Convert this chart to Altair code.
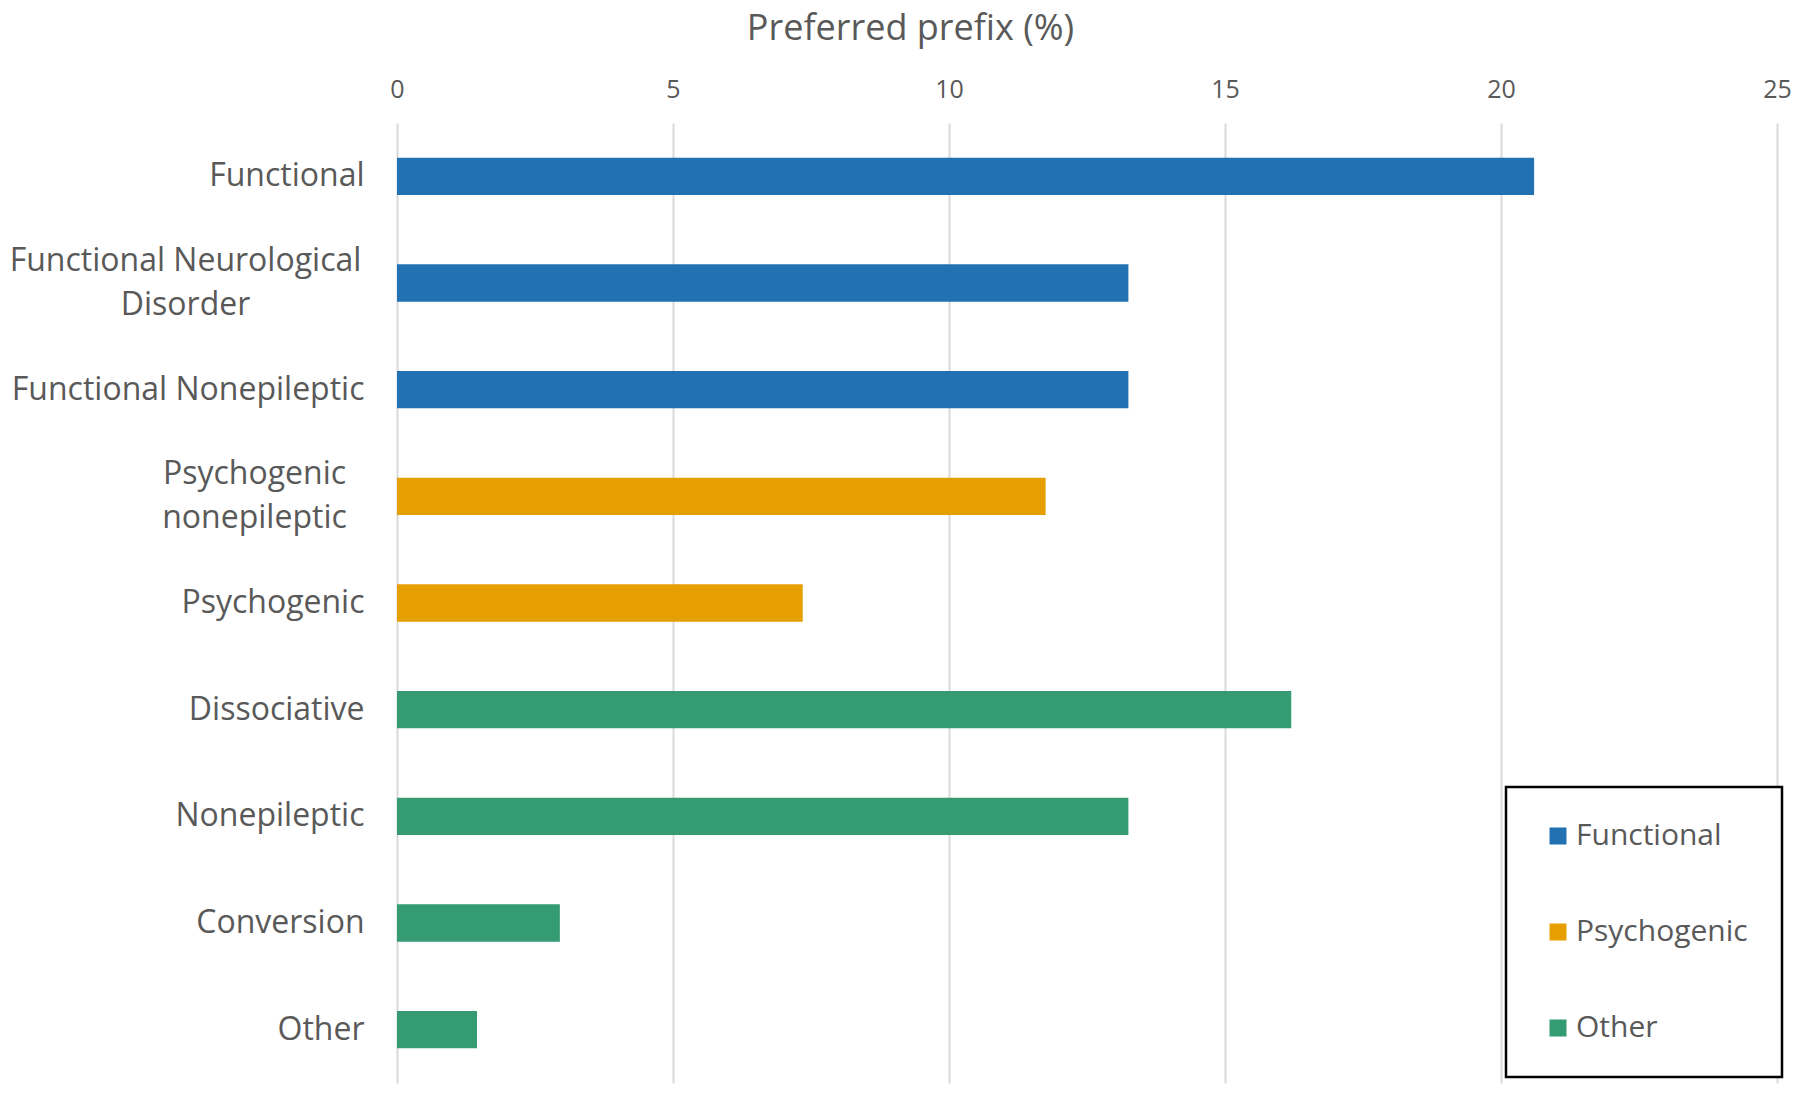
import altair as alt
import pandas as pd

categories = [
    "Functional",
    "Functional Neurological Disorder",
    "Functional Nonepileptic",
    "Psychogenic nonepileptic",
    "Psychogenic",
    "Dissociative",
    "Nonepileptic",
    "Conversion",
    "Other",
]
groups = ["Functional", "Functional", "Functional", "Psychogenic", "Psychogenic",
          "Other", "Other", "Other", "Other"]
values = [20.6, 13.25, 13.25, 11.75, 7.35, 16.2, 13.25, 2.95, 1.45]

wrapped = {
    "Functional Neurological Disorder": ["Functional Neurological", "Disorder"],
    "Psychogenic nonepileptic": ["Psychogenic", "nonepileptic"],
}
group_order = ["Functional", "Psychogenic", "Other"]
group_colors = ["#2271B2", "#E69F00", "#359B73"]
x_ticks = [0, 5, 10, 15, 20, 25]

df = pd.DataFrame({"prefix": categories, "group": groups, "value": values})

expr = "datum.value"
for k, v in wrapped.items():
    arr = "[" + ",".join("'" + s + "'" for s in v) + "]"
    expr = f"datum.value == '{k}' ? {arr} : ({expr})"

FONT = "Open Sans"
GREY = "#595959"

fnd = "datum.value == 'Functional Neurological Disorder'"
pnp = "datum.value == 'Psychogenic nonepileptic'"
any_wrapped = f"{fnd} || {pnp}"

chart = alt.Chart(df).mark_bar().encode(
    x=alt.X(
        "value:Q",
        scale=alt.Scale(domain=[0, 25], nice=False),
        axis=alt.Axis(
            orient="top",
            values=x_ticks,
            title="Preferred prefix (%)",
            titleFontSize=36,
            titleFont=FONT,
            titleColor=GREY,
            titleFontWeight="normal",
            titleX=513,
            titleY=-84,
            titleAlign="center",
            titleBaseline="alphabetic",
            labelFont=FONT,
            labelFontSize=25,
            labelColor=GREY,
            labelBaseline="alphabetic",
            labelPadding=26,
            labelFlush=False,
            ticks=False,
            domain=False,
            grid=True,
            gridColor="#D9D9D9",
            gridWidth=2,
        ),
    ),
    y=alt.Y(
        "prefix:N",
        sort=categories,
        scale=alt.Scale(paddingInner=0.65, paddingOuter=0.325),
        axis=alt.Axis(
            title=None,
            labelExpr=expr,
            labelFont=FONT,
            labelFontSize=32,
            labelColor=GREY,
            labelAlign={"condition": {"test": any_wrapped, "value": "center"}, "value": "right"},
            labelPadding={"condition": [{"test": fnd, "value": 212}, {"test": pnp, "value": 143}], "value": 33},
            labelOffset={"condition": {"test": any_wrapped, "value": -22}, "value": 0},
            labelLineHeight=44,
            labelLimit=500,
            ticks=False,
            domain=False,
            grid=False,
        ),
    ),
    color=alt.Color(
        "group:N",
        scale=alt.Scale(domain=group_order, range=group_colors),
        legend=alt.Legend(
            title=None,
            orient="none",
            legendX=1109,
            legendY=664,
            direction="vertical",
            symbolType="square",
            symbolSize=289,
            symbolStrokeWidth=0,
            symbolOffset=3,
            labelFont=FONT,
            labelFontSize=30,
            labelColor=GREY,
            labelOffset=3,
            labelLimit=400,
            fillColor="white",
        ),
    ),
).properties(
    width=1380,
    height=960,
    autosize=alt.AutoSizeParams(type="none"),
    padding={"left": 389, "top": 115, "right": 15, "bottom": 2},
).configure_view(stroke=None).configure_legend(
    rowPadding=66,
    padding=34,
    strokeColor="black",
    strokeWidth=2.5,
)

chart.save("out.html", embed_options={"renderer": "svg", "actions": False})
